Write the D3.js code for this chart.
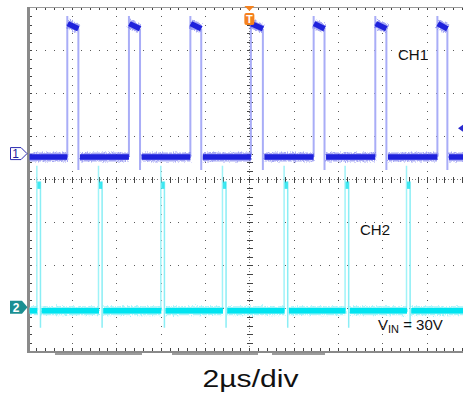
<!DOCTYPE html>
<html><head><meta charset="utf-8">
<script src="https://cdn.jsdelivr.net/npm/d3@7/dist/d3.min.js"></script>
<style>body{margin:0;background:#fff}svg{display:block}text{font-family:"Liberation Sans",Arial,sans-serif}</style>
</head><body>
<svg id="c" width="463" height="396"></svg>
<script>
// ---- data (time in µs, levels in screen divisions) ----
const timeBase = "2µs/div";
const ch1Label = "CH1";
const ch2Label = "CH2";
const vinLabel = ["V", "IN", " = 30V"];
const ch1RiseTimes = [-8.21, -5.43, -2.66, 0.07, 2.90, 5.68, 8.48];
const ch1FallTimes = [-7.71, -4.93, -2.17, 0.61, 3.39, 6.18, 8.93];
const ch1Levels = [0.52, 3.62, 3.50, 3.80, 0.22];   // low, high start, high end, overshoot, undershoot
const ch2SpikeTimes = [-9.56, -6.78, -3.97, -1.19, 1.59, 4.34, 7.11, 9.87];
const ch2Levels = [-3.05, -0.05, -0.22, 0.32, -3.45]; // base, spike top, spike low, faint top, undershoot
const markerLevels = [0.60, -2.97, 1.19];            // CH1 ref, CH2 ref, trigger level

const svg = d3.select('#c');
const x = d3.scaleLinear().domain([-10, 10]).range([27.6, 471.1]);
const y = d3.scaleLinear().domain([-4, 4]).range([351.5, 7.3]);

const minorX = d3.range(-25, 26).map(i => +(i * 0.4).toFixed(2));
const minorY = d3.range(-20, 21).map(i => +(i * 0.2).toFixed(2));
const majorX = d3.range(-8, 9, 2).filter(v => v !== 0);
const majorY = d3.range(-3, 4).filter(v => v !== 0);

const defs = svg.append('defs');
const fz = defs.append('filter').attr('id', 'fuzz').attr('filterUnits', 'userSpaceOnUse')
  .attr('x', 0).attr('y', 0).attr('width', 463).attr('height', 396);
fz.append('feTurbulence').attr('type', 'fractalNoise').attr('baseFrequency', '1.2 0.5').attr('numOctaves', 2).attr('seed', 3).attr('result', 'n');
fz.append('feDisplacementMap').attr('in', 'SourceGraphic').attr('in2', 'n').attr('scale', 5).attr('xChannelSelector', 'R').attr('yChannelSelector', 'G');

const grid = svg.append('g').attr('shape-rendering', 'crispEdges');
const dotCol = '#5a5a5a';
majorX.forEach(mx => minorY.filter(v => Math.abs(v) < 4).forEach(my => {
  grid.append('rect').attr('x', Math.round(x(mx))).attr('y', Math.round(y(my))).attr('width', 1).attr('height', 1).attr('fill', dotCol);
}));
majorY.forEach(my => minorX.filter(v => Math.abs(v) < 10).forEach(mx => {
  grid.append('rect').attr('x', Math.round(x(mx))).attr('y', Math.round(y(my))).attr('width', 1).attr('height', 1).attr('fill', dotCol);
}));
const cx = Math.round(x(0)) + 0.5, cy = Math.round(y(0)) + 0.5;
grid.append('line').attr('x1', x(-10)).attr('x2', x(10)).attr('y1', cy).attr('y2', cy)
  .attr('stroke', '#777').attr('stroke-dasharray', '1,2');
grid.append('line').attr('y1', y(4)).attr('y2', y(-4)).attr('x1', cx).attr('x2', cx)
  .attr('stroke', '#777').attr('stroke-dasharray', '1,2');
minorX.forEach(mx => {
  const px = Math.round(x(mx)) + 0.5;
  grid.append('line').attr('x1', px).attr('x2', px).attr('y1', cy - 3).attr('y2', cy + 3).attr('stroke', '#444');
  grid.append('line').attr('x1', px).attr('x2', px).attr('y1', y(4)).attr('y2', y(4) + 3).attr('stroke', '#444');
  grid.append('line').attr('x1', px).attr('x2', px).attr('y1', y(-4) - 4).attr('y2', y(-4)).attr('stroke', '#444');
});
minorY.forEach(my => {
  const py = Math.round(y(my)) + 0.5;
  grid.append('line').attr('y1', py).attr('y2', py).attr('x1', cx - 3).attr('x2', cx + 3).attr('stroke', '#444');
  grid.append('line').attr('y1', py).attr('y2', py).attr('x1', x(-10)).attr('x2', x(-10) + 4).attr('stroke', '#444');
});
grid.append('line').attr('x1', x(-10)).attr('x2', x(10)).attr('y1', Math.round(y(4)) + 0.5).attr('y2', Math.round(y(4)) + 0.5).attr('stroke', '#9a9a9a');
grid.append('line').attr('x1', x(-10)).attr('x2', x(10)).attr('y1', Math.round(y(-4))).attr('y2', Math.round(y(-4))).attr('stroke', '#8a8a8a').attr('stroke-width', 2);
grid.append('line').attr('x1', Math.round(x(-10))).attr('x2', Math.round(x(-10))).attr('y1', y(4)).attr('y2', y(-4) + 1).attr('stroke', '#8a8a8a').attr('stroke-width', 3);
[[-8.77, -4.84], [-3.49, 0.39], [1.02, 3.41]].forEach(s => {
  grid.append('line').attr('x1', x(s[0])).attr('x2', x(s[1])).attr('y1', Math.round(y(-4)) + 2).attr('y2', Math.round(y(-4)) + 2)
    .attr('stroke', '#9c9c9c').attr('stroke-width', 2);
});

svg.append('clipPath').attr('id', 'clip').append('rect')
  .attr('x', x(-10) + 2).attr('y', y(4)).attr('width', x(10) - x(-10)).attr('height', y(-4) - y(4));
const traces = svg.append('g').attr('clip-path', 'url(#clip)');
const line = d3.line().x(d => x(d[0])).y(d => y(d[1]));

// ---- CH2 (cyan) ----
const [c2Base, c2Top, c2TopLow, c2Faint, c2Under] = ch2Levels;
const spikeW = 0.14;
const c2Segs = [];
let start = -10;
ch2SpikeTimes.forEach(t => { c2Segs.push([[start, c2Base], [t, c2Base]]); start = t + spikeW + 0.05; });
c2Segs.push([[start, c2Base], [10, c2Base]]);
ch2SpikeTimes.forEach(t => {
  traces.append('line').attr('x1', x(t) - 0.5).attr('x2', x(t) - 0.5).attr('y1', y(c2Base)).attr('y2', y(c2Faint))
    .attr('stroke', '#9ff3f8').attr('stroke-width', 1.5);
  traces.append('line').attr('x1', x(t + spikeW)).attr('x2', x(t + spikeW)).attr('y1', y(c2Top)).attr('y2', y(c2Under))
    .attr('stroke', '#8aeef5').attr('stroke-width', 1.5);
  traces.append('rect').attr('x', x(t)).attr('y', y(c2Top)).attr('width', x(t + spikeW) - x(t)).attr('height', y(c2TopLow) - y(c2Top))
    .attr('fill', '#20e4ef').attr('opacity', 0.85);
});
const c2h = traces.append('g').attr('filter', 'url(#fuzz)');
const c2c = traces.append('g');
c2Segs.forEach(s => {
  c2h.append('path').attr('d', line(s)).attr('stroke', '#7ff0f6').attr('stroke-width', 9).attr('fill', 'none').attr('opacity', 0.7);
  c2c.append('path').attr('d', line(s)).attr('stroke', '#00e4f0').attr('stroke-width', 5.5).attr('fill', 'none');
});

// ---- CH1 (blue) ----
const [c1Low, c1HiA, c1HiB, c1Over, c1Under] = ch1Levels;
ch1RiseTimes.forEach((t, i) => {
  traces.append('line').attr('x1', x(t)).attr('x2', x(t)).attr('y1', y(c1Low)).attr('y2', y(c1Over))
    .attr('stroke', '#a9adf7').attr('stroke-width', 2);
  const f = ch1FallTimes[i];
  traces.append('line').attr('x1', x(f)).attr('x2', x(f)).attr('y1', y(c1HiB)).attr('y2', y(c1Under))
    .attr('stroke', '#a9adf7').attr('stroke-width', 2);
});
const c1Segs = [];
start = -10;
ch1RiseTimes.forEach((t, i) => {
  c1Segs.push([[start, c1Low], [t, c1Low]]);
  c1Segs.push([[t + 0.02, c1HiA], [ch1FallTimes[i], c1HiB]]);
  start = ch1FallTimes[i] + 0.07;
});
c1Segs.push([[start, c1Low], [10, c1Low]]);
const c1h = traces.append('g').attr('filter', 'url(#fuzz)');
const c1c = traces.append('g');
c1Segs.forEach(s => {
  c1h.append('path').attr('d', line(s)).attr('stroke', '#6e72ec').attr('stroke-width', 9).attr('fill', 'none').attr('opacity', 0.6);
  c1c.append('path').attr('d', line(s)).attr('stroke', '#1f22dc').attr('stroke-width', 5.5).attr('fill', 'none');
});

// ---- markers ----
const [m1, m2, mTrig] = markerLevels;
const my1 = y(m1), my2 = y(m2);
svg.append('path').attr('d', `M10.5,${my1 - 6}H21L27,${my1}L21,${my1 + 6}H10.5Z`)
  .attr('fill', '#fff').attr('stroke', '#2b2bb0').attr('stroke-width', 1);
svg.append('text').attr('x', 15.5).attr('y', my1 + 4.5).attr('text-anchor', 'middle')
  .attr('font-size', 12).attr('fill', '#1d1d9e').text('1');
svg.append('path').attr('d', `M10,${my2 - 6.5}H22L27.5,${my2}L22,${my2 + 6.5}H10Z`).attr('fill', '#1b8f92');
svg.append('text').attr('x', 16).attr('y', my2 + 4.5).attr('text-anchor', 'middle')
  .attr('font-size', 12).attr('font-weight', 'bold').attr('fill', '#fff').text('2');
const tx = x(0);
svg.append('path').attr('d', `M${tx - 5},6L${tx + 5},6L${tx},11Z`).attr('fill', '#f5821f');
svg.append('rect').attr('x', tx - 5).attr('y', 13).attr('width', 10).attr('height', 12).attr('rx', 2).attr('fill', '#f5821f');
svg.append('text').attr('x', tx).attr('y', 23).attr('text-anchor', 'middle').attr('font-size', 11)
  .attr('font-weight', 'bold').attr('fill', '#fff').text('T');
const ty = y(mTrig);
svg.append('path').attr('d', `M458,${ty}L463,${ty - 3.5}L463,${ty + 3.5}Z`).attr('fill', '#2a2ad0');

// ---- labels ----
svg.append('text').attr('x', 398).attr('y', 60).attr('font-size', 15).attr('fill', '#111').text(ch1Label);
svg.append('text').attr('x', 360).attr('y', 235).attr('font-size', 15).attr('fill', '#111').text(ch2Label);
const vt = svg.append('text').attr('x', 378).attr('y', 330).attr('font-size', 15).attr('fill', '#111');
vt.append('tspan').text(vinLabel[0]);
vt.append('tspan').attr('font-size', 11).attr('dy', 3).text(vinLabel[1]);
vt.append('tspan').attr('dy', -3).text(vinLabel[2]);
svg.append('text').attr('x', 250.5).attr('y', 387).attr('text-anchor', 'middle').attr('font-size', 23)
  .attr('textLength', 96).attr('lengthAdjust', 'spacingAndGlyphs').attr('fill', '#111').text(timeBase);
</script>
</body></html>
